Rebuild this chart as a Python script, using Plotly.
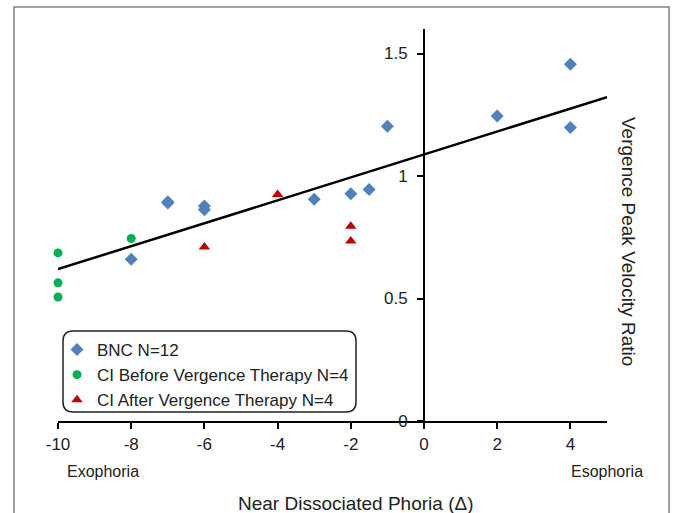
import plotly.graph_objects as go

# ---- data ----
bnc_x = [-8, -7, -7, -6, -6, -3, -2, -1.5, -1, 2, 4, 4]
bnc_y = [0.66, 0.89, 0.895, 0.878, 0.862, 0.905, 0.928, 0.945, 1.203, 1.245, 1.456, 1.198]

ci_before_x = [-10, -10, -10, -8]
ci_before_y = [0.686, 0.564, 0.506, 0.745]

ci_after_x = [-6, -4, -2, -2]
ci_after_y = [0.71, 0.925, 0.795, 0.735]

fit_x = [-10, 5]
fit_y = [0.62, 1.322]

x_ticks = [-10, -8, -6, -4, -2, 0, 2, 4]
x_tick_text = ["-10", "-8", "-6", "-4", "-2", "0", "2", "4"]
y_ticks = [0, 0.5, 1, 1.5]
y_tick_text = ["0", "0.5", "1", "1.5"]

FONT = "Liberation Sans, Arial, sans-serif"
TXT = "#222222"

fig = go.Figure()

fig.add_trace(go.Scatter(x=fit_x, y=fit_y, mode="lines",
                         line=dict(color="black", width=2.5),
                         showlegend=False, hoverinfo="skip", cliponaxis=False))

fig.add_trace(go.Scatter(x=bnc_x, y=bnc_y, mode="markers", name="BNC N=12",
                         marker=dict(symbol="diamond", size=10, color="#4F81BD"),
                         cliponaxis=False))
fig.add_trace(go.Scatter(x=ci_before_x, y=ci_before_y, mode="markers",
                         name="CI Before Vergence Therapy N=4",
                         marker=dict(symbol="circle", size=9, color="#00B050"),
                         cliponaxis=False))
fig.add_trace(go.Scatter(x=ci_after_x, y=ci_after_y, mode="markers",
                         name="CI After Vergence Therapy N=4",
                         marker=dict(symbol="triangle-up", size=10, color="#C00000"),
                         cliponaxis=False))

W, H = 673, 513
L, R, T, B = 58, 66, 29, 92
pw, ph = W - L - R, H - T - B


def px(xp):
    return (xp - L) / pw


def py(yp):
    return (H - B - yp) / ph


# legend rounded box
x0, x1 = px(63), px(356)
y0, y1 = py(412), py(331)
rx, ry = 10 / pw, 10 / ph
path = (f"M {x0+rx},{y1} L {x1-rx},{y1} Q {x1},{y1} {x1},{y1-ry} "
        f"L {x1},{y0+ry} Q {x1},{y0} {x1-rx},{y0} "
        f"L {x0+rx},{y0} Q {x0},{y0} {x0},{y0+ry} "
        f"L {x0},{y1-ry} Q {x0},{y1} {x0+rx},{y1} Z")

shapes = [
    dict(type="path", xref="paper", yref="paper", path=path,
         line=dict(color="#222222", width=1.5), fillcolor="rgba(255,255,255,0)", layer="below"),
    # outer frame
    dict(type="rect", xref="paper", yref="paper",
         x0=px(14), x1=px(669), y0=py(530), y1=py(7),
         line=dict(color="#808080", width=1.5), fillcolor="rgba(0,0,0,0)"),
]


def ann(text, x, y, size, angle=0):
    return dict(text=text, xref="paper", yref="paper", x=px(x), y=py(y),
                xanchor="center", yanchor="middle", showarrow=False,
                textangle=angle, font=dict(size=size, color=TXT, family=FONT))


annotations = [
    ann("Vergence Peak Velocity Ratio", 629, 241, 19, 90),
    ann("Exophoria", 103, 471, 16),
    ann("Esophoria", 607, 471, 16),
    ann("Near Dissociated Phoria (Δ)", 356, 503, 19),
]

fig.update_layout(
    width=W, height=H,
    margin=dict(l=L, r=R, t=T, b=B, pad=0),
    paper_bgcolor="white", plot_bgcolor="white",
    font=dict(family=FONT, color=TXT),
    showlegend=True,
    legend=dict(x=px(57), y=py(332), xanchor="left", yanchor="top",
                bgcolor="rgba(0,0,0,0)", borderwidth=0,
                font=dict(size=17, color=TXT, family=FONT),
                itemwidth=30),
    xaxis=dict(range=[-10, 5], tickvals=x_ticks, ticktext=x_tick_text,
               showgrid=False, zeroline=False,
               showline=True, linecolor="black", linewidth=2,
               ticks="outside", ticklen=6, tickwidth=1.5, tickcolor="black",
               tickfont=dict(size=17, color=TXT, family=FONT),
               ticklabelstandoff=1),
    yaxis=dict(range=[0, 1.6], tickvals=y_ticks, ticktext=y_tick_text,
               showgrid=False, zeroline=False,
               anchor="free", position=10 / 15,
               showline=True, linecolor="black", linewidth=2,
               ticks="outside", ticklen=6, tickwidth=1.5, tickcolor="black",
               tickfont=dict(size=17, color=TXT, family=FONT),
               ticklabelstandoff=6),
    shapes=shapes,
    annotations=annotations,
)

fig.write_html("out.html", config={"displayModeBar": False},
               post_script="document.body.style.margin='0px';")
